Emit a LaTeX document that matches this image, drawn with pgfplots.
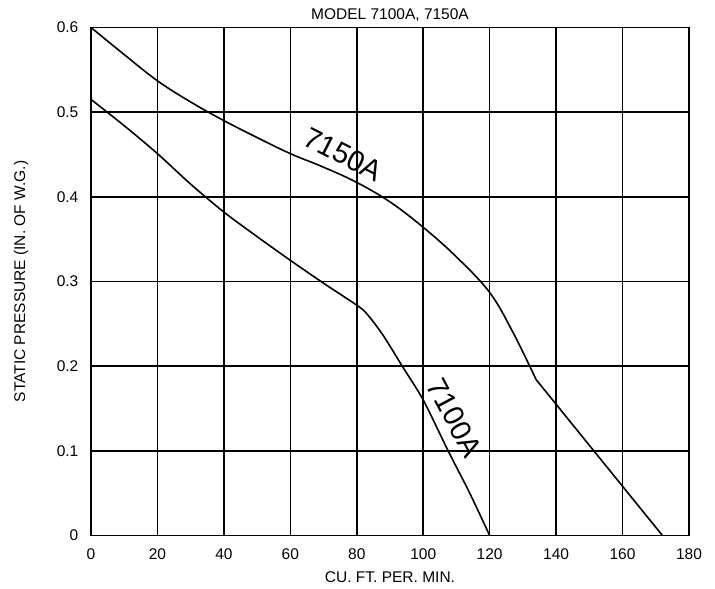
\documentclass[border=0pt]{standalone}
\usepackage{fontspec}
\setmainfont{Liberation Sans}
\usepackage{pgfplots}
\pgfplotsset{compat=1.18}

\begin{document}
\begin{tikzpicture}
\begin{axis}[
  scale only axis,
  width=598pt, height=508pt,
  xmin=0, xmax=180, ymin=0, ymax=0.6,
  xtick={0,20,...,180},
  ytick={0,0.1,...,0.6},
  yticklabel style={/pgf/number format/fixed, /pgf/number format/precision=1,
    anchor=east, inner sep=0pt, xshift=-12.5pt},
  xticklabel style={anchor=north, inner sep=0pt, yshift=-13pt},
  /pgf/number format/assume math mode=true,
  tick label style={font=\fontsize{15.5}{17}\selectfont},
  label style={font=\fontsize{15.5}{17}\selectfont},
  title style={font=\fontsize{15.5}{17}\selectfont,
    at={(axis description cs:0.5,1.012)}, anchor=center, inner sep=0pt},
  title={MODEL 7100A, 7150A},
  xlabel={CU. FT. PER. MIN.},
  xlabel style={at={(axis description cs:0.5,-0.083)}, anchor=center, inner sep=0pt},
  ylabel={STATIC PRESSURE (IN. OF W.G.)},
  ylabel style={at={(axis description cs:-0.117,0.5)}, anchor=center, inner sep=0pt},
  major tick length=0pt,
  grid=major,
  grid style={black, line width=1.6pt},
  axis line style={black, line width=1.8pt},
  clip=false,
]
\path (axis description cs:-0.15217,-0.10531) rectangle (axis description cs:1.04348,1.05413);
\addplot[black, line width=1.6pt, smooth, tension=0.6] coordinates {
  (0,0.600) (10,0.568) (20,0.537) (30,0.512) (40,0.490) (50,0.470) (60,0.451)
  (70,0.435) (80,0.417) (90,0.394) (100,0.364) (110,0.329) (120,0.287) (127,0.240) (134,0.184)
};
\addplot[black, line width=1.6pt] coordinates {
  (134,0.184) (172,0)
};
\addplot[black, line width=1.6pt, smooth, tension=0.5] coordinates {
  (0,0.515) (10,0.484) (20,0.451) (30,0.415) (40,0.382) (50,0.353) (60,0.325)
  (70,0.298) (80,0.272) (83,0.262) (88,0.236) (94,0.198) (100,0.160) (107.5,0.100)
  (114,0.050) (120,0)
};
\node[rotate=-27, font=\fontsize{29}{31}\selectfont] at (axis cs:75.9,0.450) {7150A};
\node[rotate=-62, font=\fontsize{29}{31}\selectfont] at (axis cs:109.4,0.139) {7100A};
\end{axis}
\end{tikzpicture}
\end{document}
